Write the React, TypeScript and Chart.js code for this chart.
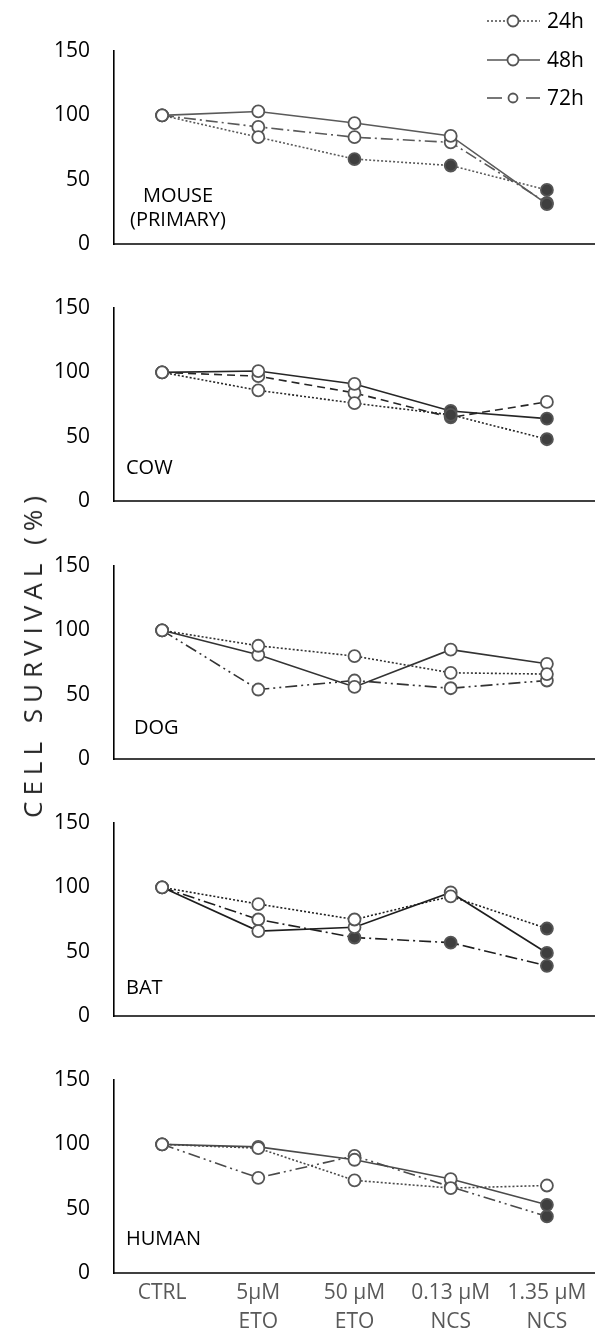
import React, { useEffect, useRef } from "react";
import { Chart, registerables } from "chart.js";

Chart.register(...registerables);

const FONT = "'Open Sans', 'Noto Sans', sans-serif";

// ---------- DATA ----------
const categories: string[][] = [["CTRL"], ["5μM", "ETO"], ["50 μM", "ETO"], ["0.13 μM", "NCS"], ["1.35 μM", "NCS"]];
const seriesLabels = ["24h", "48h", "72h"];
const yTickValues = [0, 50, 100, 150];

const mouse24 = [100, 83, 66, 61, 42];
const mouse48 = [100, 103, 94, 84, 31];
const mouse72 = [100, 91, 83, 79, 32];
const mouseSig24 = [false, false, true, true, true];
const mouseSig48 = [false, false, false, false, true];
const mouseSig72 = [false, false, false, false, true];

const cow24 = [100, 86, 76, 67, 48];
const cow48 = [100, 101, 91, 70, 64];
const cow72 = [100, 97, 84, 65, 77];
const cowSig24 = [false, false, false, true, true];
const cowSig48 = [false, false, false, true, true];
const cowSig72 = [false, false, false, true, false];

const dog24 = [100, 88, 80, 67, 66];
const dog48 = [100, 81, 56, 85, 74];
const dog72 = [100, 54, 61, 55, 61];
const dogSig24 = [false, false, false, false, false];
const dogSig48 = [false, false, false, false, false];
const dogSig72 = [false, false, false, false, false];

const bat24 = [100, 87, 75, 93, 68];
const bat48 = [100, 66, 69, 96, 49];
const bat72 = [100, 75, 61, 57, 39];
const batSig24 = [false, false, false, false, true];
const batSig48 = [false, false, false, false, true];
const batSig72 = [false, false, true, true, true];

const human24 = [100, 97, 72, 66, 68];
const human48 = [100, 98, 88, 73, 53];
const human72 = [100, 74, 91, 67, 44];
const humanSig24 = [false, false, false, false, false];
const humanSig48 = [false, false, false, false, true];
const humanSig72 = [false, false, false, false, true];

// ---------- STYLE / LAYOUT ----------
const panels = [
  { name: ["MOUSE", "(PRIMARY)"], values: [mouse24, mouse48, mouse72], sig: [mouseSig24, mouseSig48, mouseSig72], dash72: [12, 4, 2, 4], color: "#5a5a5a", labelLeft: 118, labelW: 120, center: true, labelY: 195 },
  { name: ["COW"], values: [cow24, cow48, cow72], sig: [cowSig24, cowSig48, cowSig72], dash72: [8, 5], color: "#262626", labelLeft: 126, labelW: 80, center: false, labelY: 467 },
  { name: ["DOG"], values: [dog24, dog48, dog72], sig: [dogSig24, dogSig48, dogSig72], dash72: [12, 4, 2, 4, 2, 4], color: "#333333", labelLeft: 134, labelW: 80, center: false, labelY: 727 },
  { name: ["BAT"], values: [bat24, bat48, bat72], sig: [batSig24, batSig48, batSig72], dash72: [12, 4, 2, 4], color: "#1e1e1e", labelLeft: 126, labelW: 80, center: false, labelY: 987 },
  { name: ["HUMAN"], values: [human24, human48, human72], sig: [humanSig24, humanSig48, humanSig72], dash72: [12, 4, 2, 4, 2, 4], color: "#4a4a4a", labelLeft: 126, labelW: 100, center: false, labelY: 1238 },
];

const PAGE_W = 595;
const PAGE_H = 1330;
const PLOT_H = 193;
const AXIS_LEFT = 114;
const BELOW = 20;
const bottoms = [244, 501, 759, 1016, 1273];

function geom(i: number) {
  const top = i === 0 ? 0 : bottoms[i - 1] + BELOW;
  const height = i === bottoms.length - 1 ? PAGE_H - top : bottoms[i] + BELOW - top;
  const padTop = bottoms[i] - PLOT_H - top;
  const xHeight = height - padTop - PLOT_H;
  return { top, height, padTop, xHeight };
}

const MARKER_EDGE = "#555555";
const MARKER_FILL = "#3f3f3f";

const legendPlugin = {
  id: "seriesLegend",
  afterDraw(chart: any) {
    const ctx = chart.ctx as CanvasRenderingContext2D;
    const rows = [21, 60, 98];
    const x0 = 487, x1 = 540, mx = 513, tx = 547;
    ctx.save();
    rows.forEach((y, k) => {
      ctx.strokeStyle = "#555555";
      ctx.lineWidth = 1.6;
      if (k === 0) {
        ctx.setLineDash([2, 2]);
        ctx.beginPath(); ctx.moveTo(x0, y); ctx.lineTo(x1, y); ctx.stroke();
      } else if (k === 1) {
        ctx.setLineDash([]);
        ctx.beginPath(); ctx.moveTo(x0, y); ctx.lineTo(x1, y); ctx.stroke();
      } else {
        ctx.setLineDash([]);
        ctx.beginPath(); ctx.moveTo(x0, y); ctx.lineTo(x0 + 15, y); ctx.stroke();
        ctx.beginPath(); ctx.moveTo(x1 - 14, y); ctx.lineTo(x1, y); ctx.stroke();
      }
      ctx.setLineDash([]);
      ctx.beginPath();
      ctx.arc(mx, y, k === 2 ? 4.5 : 5.5, 0, Math.PI * 2);
      ctx.fillStyle = "#fff";
      ctx.fill();
      ctx.lineWidth = 1.8;
      ctx.strokeStyle = "#555555";
      ctx.stroke();
      ctx.fillStyle = "#000";
      ctx.font = `21px ${FONT}`;
      ctx.textAlign = "left";
      ctx.textBaseline = "middle";
      ctx.fillText(seriesLabels[k], tx, y + 1);
    });
    ctx.restore();
  },
};

function Panel({ idx }: { idx: number }) {
  const ref = useRef<HTMLCanvasElement>(null);
  const g = geom(idx);
  useEffect(() => {
    const p = panels[idx];
    const isLast = idx === panels.length - 1;
    const chart = new Chart(ref.current as HTMLCanvasElement, {
      type: "line",
      data: {
        labels: categories as any,
        datasets: p.values.map((vals, s) => ({
          label: seriesLabels[s],
          data: vals,
          borderColor: p.color,
          borderWidth: 1.6,
          borderDash: s === 0 ? [2, 2] : s === 1 ? [] : p.dash72,
          pointRadius: 6,
          pointBorderWidth: 1.8,
          pointBorderColor: MARKER_EDGE,
          pointBackgroundColor: p.sig[s].map((f) => (f ? MARKER_FILL : "#ffffff")),
          tension: 0,
          fill: false,
          clip: false as any,
        })),
      },
      options: {
        animation: false,
        responsive: false,
        devicePixelRatio: 1,
        events: [],
        layout: { padding: { top: g.padTop, left: 0, right: 0, bottom: 0 }, autoPadding: false } as any,
        plugins: { legend: { display: false }, tooltip: { enabled: false } },
        scales: {
          x: {
            type: "category",
            offset: true,
            grid: { display: false, drawTicks: false },
            border: { display: true, color: "#404040", width: 2 },
            ticks: {
              display: true,
              color: isLast ? "#595959" : "rgba(0,0,0,0)",
              font: { family: FONT, size: 21, lineHeight: 1.4 },
              padding: 5,
              maxRotation: 0,
              minRotation: 0,
              autoSkip: false,
            },
            afterFit: (s: any) => {
              s.height = g.xHeight;
            },
          },
          y: {
            min: 0,
            max: 150,
            afterBuildTicks: (s: any) => {
              s.ticks = yTickValues.map((v) => ({ value: v }));
            },
            grid: { display: false, drawTicks: true, tickLength: 24 },
            border: { display: true, color: "#000", width: 1.6 },
            ticks: { color: "#000", font: { family: FONT, size: 21 }, padding: 0 },
            afterFit: (s: any) => {
              s.width = AXIS_LEFT;
            },
          },
        },
      },
      plugins: idx === 0 ? [legendPlugin] : [],
    });
    return () => chart.destroy();
  }, [idx]);
  return (
    <canvas
      ref={ref}
      width={PAGE_W}
      height={g.height}
      style={{ position: "absolute", left: 0, top: g.top, width: PAGE_W, height: g.height, display: "block" }}
    />
  );
}

export default function App() {
  return (
    <div style={{ position: "absolute", left: 0, top: 0, width: PAGE_W, height: PAGE_H, background: "#fff", overflow: "hidden", fontFamily: FONT }}>
      {panels.map((_, i) => (
        <Panel key={i} idx={i} />
      ))}
      {panels.map((p, i) => (
        <div
          key={"lbl" + i}
          style={{
            position: "absolute",
            left: p.labelLeft,
            width: p.labelW,
            top: p.labelY - 12,
            fontSize: 20,
            lineHeight: "24px",
            color: "#000",
            textAlign: p.center ? "center" : "left",
            whiteSpace: "nowrap",
          }}
        >
          {p.name.map((line, k) => (
            <div key={k}>{line}</div>
          ))}
        </div>
      ))}
      <div
        style={{
          position: "absolute",
          left: 32,
          top: 657,
          transform: "translate(-50%, -50%) rotate(-90deg)",
          fontSize: 26,
          letterSpacing: "6px",
          paddingLeft: 6,
          color: "#262626",
          whiteSpace: "nowrap",
          lineHeight: "30px",
        }}
      >
        CELL SURVIVAL (%)
      </div>
    </div>
  );
}
